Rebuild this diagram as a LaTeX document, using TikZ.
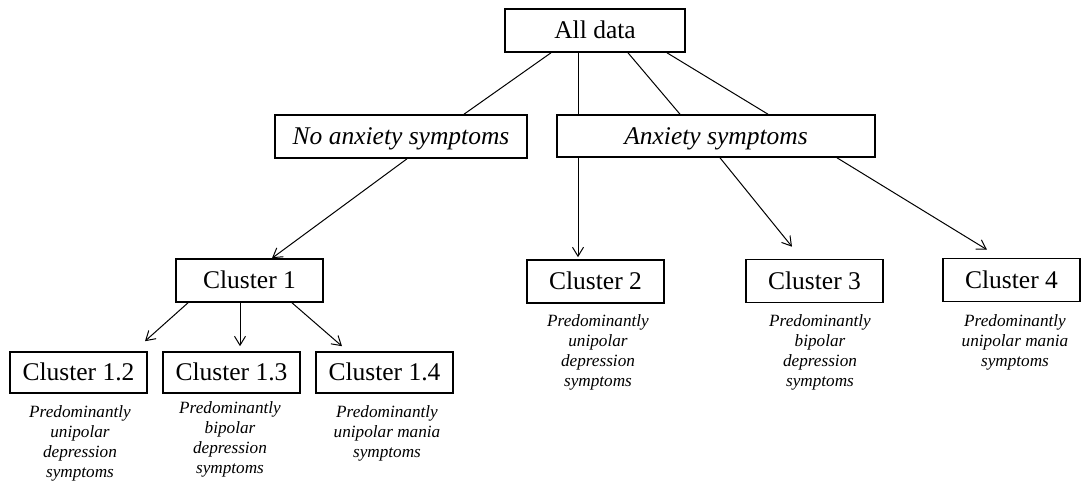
\documentclass[tikz,border=0pt]{standalone}
\usepackage{fontspec}
\setmainfont{Liberation Serif}
\usetikzlibrary{calc,arrows.meta}
\tikzset{
  box/.style={draw, line width=0.8pt, inner sep=0pt, minimum height=21.5pt,
    text height=8.4pt, text depth=0pt, font=\fontsize{12.75}{15}\selectfont},
  note/.style={align=center, inner sep=0pt, font=\fontsize{8.6}{10}\selectfont\itshape},
  link/.style={line width=0.5pt},
  pointer/.style={line width=0.5pt, -{Straight Barb[length=4.5pt, width=5.5pt]}},
}

\begin{document}
\begin{tikzpicture}[x=0.5pt, y=-0.5pt]
	%%%%% START %%%%%
	\useasboundingbox (0, 0) rectangle (1083, 484);
	
	\node[box, minimum width=90pt] (all) at (595, 30.5) {All data};
	
	\node[box, minimum width=126pt] (noanx) at (401, 136.5) {\itshape No anxiety symptoms};
	\node[box, minimum width=159pt, minimum height=21pt] (anx) at (716, 136) {\itshape Anxiety symptoms};
	
	\node[box, minimum width=73.5pt] (c1) at (249.5, 280.5) {Cluster 1};
	\node[box, minimum width=68.5pt] (c2) at (595.5, 281.5) {Cluster 2};
	\node[box, minimum width=68.5pt] (c3) at (814.5, 281) {Cluster 3};
	\node[box, minimum width=68.5pt] (c4) at (1011.5, 280) {Cluster 4};
	
	\node[box, minimum width=68.5pt, minimum height=20.5pt] (c12) at (78.5, 372.5) {Cluster 1.2};
	\node[box, minimum width=68.5pt, minimum height=20.5pt] (c13) at (231.5, 372.5) {Cluster 1.3};
	\node[box, minimum width=68.5pt, minimum height=20.5pt] (c14) at (384.5, 372.5) {Cluster 1.4};
	
	\node[note] (d12) at (80, 443) {Predominantly\\unipolar\\depression\\symptoms};
	\node[note] (d13) at (230, 439.5) {Predominantly\\bipolar\\depression\\symptoms};
	\node[note] (d14) at (387, 433) {Predominantly\\unipolar mania\\symptoms};
	\node[note] (d2) at (598, 352) {Predominantly\\unipolar\\depression\\symptoms};
	\node[note] (d3) at (820, 352) {Predominantly\\bipolar\\depression\\symptoms};
	\node[note] (d4) at (1015, 342) {Predominantly\\unipolar mania\\symptoms};
	
	% split of all data
	\draw[link] ($(all.south)+(-44, 0)$) -- ($(noanx.north)+(63, 0)$);
	\draw[link] ($(all.south)+(-17, 0)$) -- ($(anx.north)+(-138, 0)$);
	\draw[link] ($(all.south)+(33, 0)$) -- ($(anx.north)+(-36, 0)$);
	\draw[link] ($(all.south)+(72, 0)$) -- ($(anx.north)+(52, 0)$);
	
	% clusters
	\draw[pointer] ($(noanx.south)+(6, 0)$) -- ($(c1.north)+(22.5, 0)$);
	\draw[pointer] ($(anx.south)+(-138, 0)$) -- ($(c2.north)+(-17.5, -2)$);
	\draw[pointer] ($(anx.south)+(4, 0)$) -- ($(c3.north)+(-22.5, -12)$);
	\draw[pointer] ($(anx.south)+(121, 0)$) -- ($(c4.north)+(-24.5, -8)$);
	
	\draw[pointer] ($(c1.south)+(-61.5, 0)$) -- ($(c12.north)+(66.5, -10)$);
	\draw[pointer] ($(c1.south)+(-9.5, 0)$) -- ($(c13.north)+(8.5, -5)$);
	\draw[pointer] ($(c1.south)+(42.5, 0)$) -- ($(c14.north)+(-42.5, -5)$);
	
	%%%%% END %%%%%
\end{tikzpicture}
\end{document}
